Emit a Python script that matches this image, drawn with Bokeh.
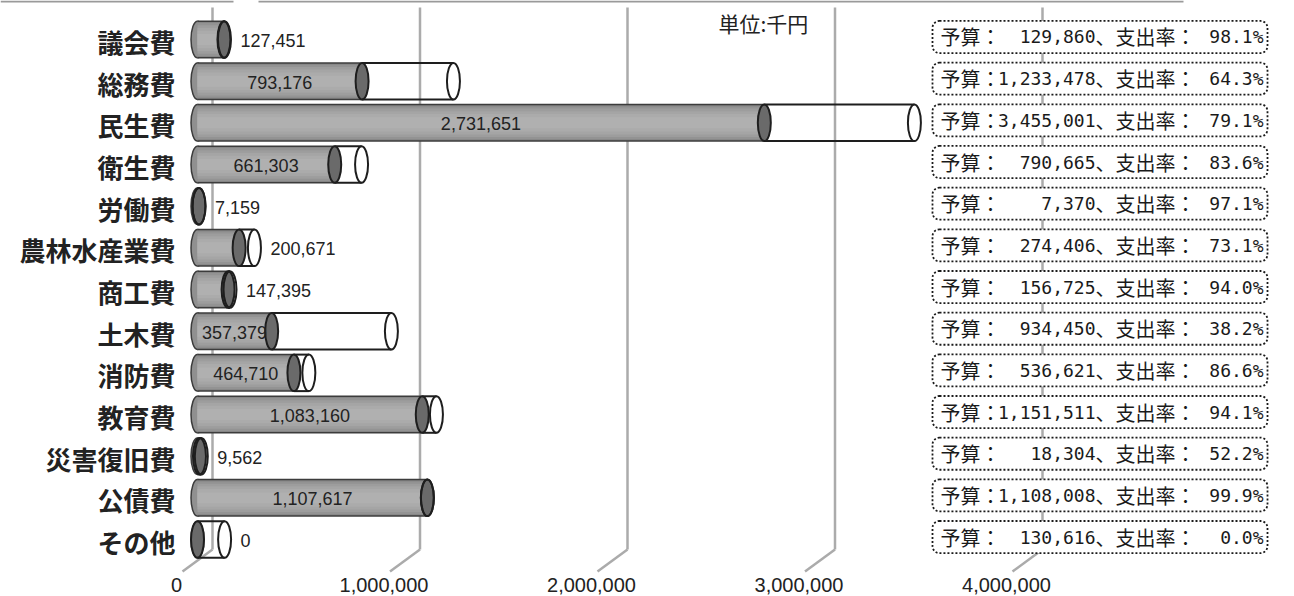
from bokeh.plotting import figure
from bokeh.models import Range1d, ColumnDataSource
from bokeh.core.properties import value
from bokeh.embed import file_html
from bokeh.resources import INLINE

# ---------------- data ----------------
categories = ["議会費", "総務費", "民生費", "衛生費", "労働費", "農林水産業費", "商工費",
              "土木費", "消防費", "教育費", "災害復旧費", "公債費", "その他"]
actual = [127451, 793176, 2731651, 661303, 7159, 200671, 147395,
          357379, 464710, 1083160, 9562, 1107617, 0]
budget = [129860, 1233478, 3455001, 790665, 7370, 274406, 156725,
          934450, 536621, 1151511, 18304, 1108008, 130616]
rate = [98.1, 64.3, 79.1, 83.6, 97.1, 73.1, 94.0, 38.2, 86.6, 94.1, 52.2, 99.9, 0.0]
ticks = [0, 1000000, 2000000, 3000000, 4000000]
tick_labels = ["0", "1,000,000", "2,000,000", "3,000,000", "4,000,000"]
unit_label = "単位:千円"

# ---------------- layout helpers ----------------
W, H = 1294, 596
PX_PER_UNIT = 207.5e-6          # pixels per yen-thousand
ZERO_SX = 197                   # screen x of value 0
ROW0_SY, ROW_STEP = 39, 41.67   # screen y of first row, row pitch


def xd(sx):
    return (sx - ZERO_SX) / PX_PER_UNIT


def yd(sy):
    return (sy - ROW0_SY) / ROW_STEP


n = len(categories)
idx = list(range(n))
DEPTH = 15 / PX_PER_UNIT
BAR_H = 0.876
ELL_W = 13 / PX_PER_UNIT

p = figure(width=W, height=H, output_backend="svg", toolbar_location=None,
           x_range=Range1d(xd(0), xd(W)), y_range=Range1d(yd(H), yd(0)),
           x_axis_location=None, y_axis_location=None, min_border=0)
p.outline_line_color = None
p.grid.visible = False
p.background_fill_color = "white"

# thin page rule along the top edge
p.segment(x0=[xd(0), xd(258)], y0=[yd(1), yd(1)], x1=[xd(233), xd(1183)], y1=[yd(1), yd(1)],
          line_color="#9a9a9a", line_width=2)

# ---------------- 3D grid lines ----------------
back = [t + DEPTH for t in ticks]
front = [t - DEPTH for t in ticks]
GRID_C = "#ababab"
p.segment(x0=back, y0=[yd(7)] * len(ticks), x1=back, y1=[yd(549)] * len(ticks),
          line_color=GRID_C, line_width=2.5)
p.segment(x0=back, y0=[yd(549)] * len(ticks), x1=front, y1=[yd(571)] * len(ticks),
          line_color=GRID_C, line_width=2.5)

# ---------------- cylinders ----------------
src = ColumnDataSource(dict(
    y=idx, actual=actual, budget=budget,
    zero=[0] * n,
    ytop=[i - BAR_H / 2 for i in idx],
    ybot=[i + BAR_H / 2 for i in idx],
))

# left cap of gray body
p.ellipse(x="zero", y="y", width=ELL_W, height=BAR_H, source=src,
          fill_color="#909090", line_color="#3c3c3c", line_width=1.5)

# gray body with a soft cylindrical gradient
bands = [(1.00, "#858585"), (0.90, "#939393"), (0.78, "#9d9d9d"),
         (0.64, "#a5a5a5"), (0.48, "#ababab"), (0.30, "#b0b0b0")]
for frac, col in bands:
    p.hbar(y="y", left="zero", right="actual", height=BAR_H * frac, source=src,
           fill_color=col, line_color=None)

# body outline (top / bottom)
p.segment(x0="zero", y0="ytop", x1="actual", y1="ytop", source=src,
          line_color="#3c3c3c", line_width=1.5)
p.segment(x0="zero", y0="ybot", x1="actual", y1="ybot", source=src,
          line_color="#3c3c3c", line_width=1.5)

# dark end cap at actual value
p.ellipse(x="actual", y="y", width=ELL_W, height=BAR_H, source=src,
          fill_color="#6a6a6a", line_color="#1e1e1e", line_width=2)

# transparent remainder up to budget
p.segment(x0="actual", y0="ytop", x1="budget", y1="ytop", source=src,
          line_color="#1e1e1e", line_width=2)
p.segment(x0="actual", y0="ybot", x1="budget", y1="ybot", source=src,
          line_color="#1e1e1e", line_width=2)
p.ellipse(x="budget", y="y", width=ELL_W, height=BAR_H, source=src,
          fill_color=None, line_color="#1e1e1e", line_width=2)

# ---------------- category labels ----------------
p.text(x=[0] * n, y=idx, text=categories, x_offset=-22, y_offset=2,
       text_align="right", text_baseline="middle",
       text_font=value("Noto Sans CJK JP"), text_font_style="bold",
       text_font_size="26px", text_color="#222222")

# ---------------- value labels ----------------
inside_x, inside_y, inside_t = [], [], []
out_x, out_y, out_t = [], [], []
for i, (a, b) in enumerate(zip(actual, budget)):
    lab = f"{a:,}"
    if a > 300000:
        inside_x.append(a / 2); inside_y.append(i); inside_t.append(lab)
    else:
        out_x.append(max(a, b)); out_y.append(i); out_t.append(lab)

p.text(x=inside_x, y=inside_y, text=inside_t, y_offset=1,
       text_align="center", text_baseline="middle",
       text_font=value("Liberation Sans"), text_font_size="18px", text_color="#222222")
p.text(x=out_x, y=out_y, text=out_t, x_offset=16, y_offset=1,
       text_align="left", text_baseline="middle",
       text_font=value("Liberation Sans"), text_font_size="18px", text_color="#222222")

# ---------------- budget boxes ----------------
BOX_SHIFT, BOX_H = -0.06, 0.77
box_top = [i + BOX_SHIFT - BOX_H / 2 for i in idx]
box_bot = [i + BOX_SHIFT + BOX_H / 2 for i in idx]
p.quad(left=xd(932), right=xd(1267), top=box_top, bottom=box_bot,
       fill_color="white", line_color="#1a1a1a", line_width=1.8,
       line_dash="2 2", border_radius=7)

ty = [i + BOX_SHIFT for i in idx]
p.text(x=[xd(940)] * n, y=ty, text=["予算："] * n,
       text_align="left", text_baseline="middle",
       text_font=value("Noto Sans CJK JP"), text_font_size="20px", text_color="#1a1a1a")
p.text(x=[xd(1095)] * n, y=ty, text=[f"{b:,}" for b in budget],
       text_align="right", text_baseline="middle",
       text_font=value("DejaVu Sans Mono"), text_font_size="18px", text_color="#1a1a1a")
p.text(x=[xd(1095)] * n, y=ty, text=["、支出率："] * n,
       text_align="left", text_baseline="middle",
       text_font=value("Noto Sans CJK JP"), text_font_size="20px", text_color="#1a1a1a")
p.text(x=[xd(1263)] * n, y=ty, text=[f"{r:.1f}%" for r in rate],
       text_align="right", text_baseline="middle",
       text_font=value("DejaVu Sans Mono"), text_font_size="18px", text_color="#1a1a1a")

# ---------------- unit & axis tick labels ----------------
p.text(x=[xd(718)], y=[yd(22)], text=[unit_label],
       text_align="left", text_baseline="middle",
       text_font=value("Noto Sans CJK JP"), text_font_size="21px", text_color="#222222")

p.text(x=ticks, y=[yd(584)] * len(ticks), text=tick_labels, x_offset=-21,
       text_align="center", text_baseline="middle",
       text_font=value("Liberation Sans"), text_font_size="20px", text_color="#222222")

open("out.html", "w").write(file_html(p, INLINE))
